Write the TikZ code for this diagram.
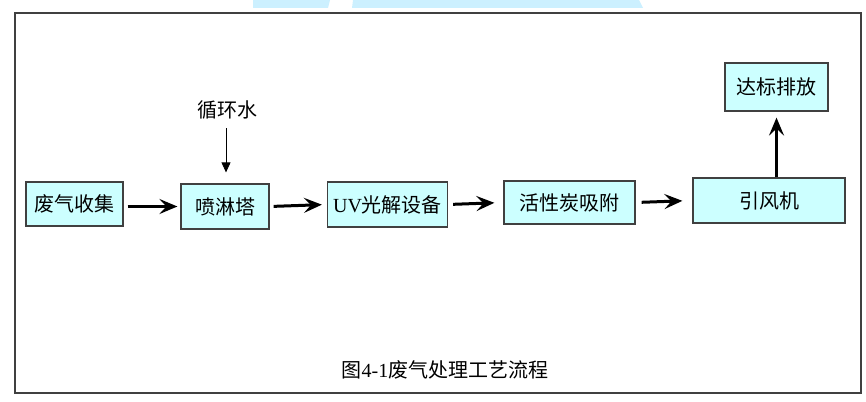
\documentclass[tikz,border=0pt]{standalone}
\usepackage{fontspec}
\setmainfont{Liberation Serif}
\newfontfamily\cjk{Noto Sans CJK SC}
\definecolor{boxcyan}{RGB}{204, 255, 255}
\definecolor{framegray}{RGB}{64, 64, 64}
\definecolor{markcyan}{RGB}{204, 240, 255}
\usetikzlibrary{arrows.meta, positioning}

\tikzset{
  procbox/.style={draw=framegray, fill=boxcyan, line width=1.2pt, inner sep=0pt,
    minimum height=45pt, font=\fontsize{20}{24}\selectfont\cjk},
  flowarrow/.style={-{Stealth[length=18pt, width=15pt, inset=7pt]}, line width=3pt},
  feedarrow/.style={-{Triangle[length=10pt, width=9pt]}, line width=0.8pt}
}

\begin{document}
\begin{tikzpicture}[x=1pt, y=-1pt]
  \useasboundingbox (0,0) rectangle (866,401);
  % watermark pieces at the top edge
  \fill[markcyan] (253,0) -- (330,0) -- (328,8) -- (253,8) -- cycle;
  \fill[markcyan] (353,0) -- (639,0) -- (643,8) -- (352,8) -- cycle;
  % outer frame
  \draw[framegray, line width=1.5pt] (15,13) rectangle (861,393);

  % process boxes
  \node[procbox, minimum width=97pt, minimum height=44pt] (collect) at (74.5,204) {废气收集};
  \node[procbox, minimum width=88pt] (spray) at (225,206.5) {喷淋塔};
  \node[procbox, minimum width=120pt] (uvunit) at (387.5,204.5) {{\rmfamily UV}光解设备};
  \node[procbox, minimum width=131pt, minimum height=43pt] (carbon) at (569.5,202.5) {活性炭吸附};
  \node[procbox, minimum width=152pt] (fan) at (769,200.5) {引风机};
  \node[procbox, minimum width=103pt, minimum height=48pt] (outlet) at (776.5,87) {达标排放};

  % circulating water feed
  \node[font=\fontsize{20}{24}\selectfont\cjk] (water) at (227,110) {循环水};
  \coordinate (waterin) at (226,128);
  \draw[feedarrow, shorten >=11pt] (waterin) -- (waterin |- spray.north);

  % main flow
  \draw[flowarrow, shorten <=4pt, shorten >=3pt] (collect.east |- spray) -- (spray.west);
  \draw[flowarrow, shorten <=4pt, shorten >=5pt] (spray.east) -- (uvunit.west);
  \draw[flowarrow, shorten <=5pt, shorten >=9pt] (uvunit.east) -- (carbon.west);
  \draw[flowarrow, shorten <=6pt, shorten >=10pt] (carbon.east) -- (fan.west);
  \draw[flowarrow, shorten >=6pt] (fan.north -| outlet) -- (outlet.south);

  % caption
  \node[font=\fontsize{20}{24}\selectfont] (caption) at (445,370) {{\cjk 图}4-1{\cjk 废气处理工艺流程}};
\end{tikzpicture}
\end{document}
